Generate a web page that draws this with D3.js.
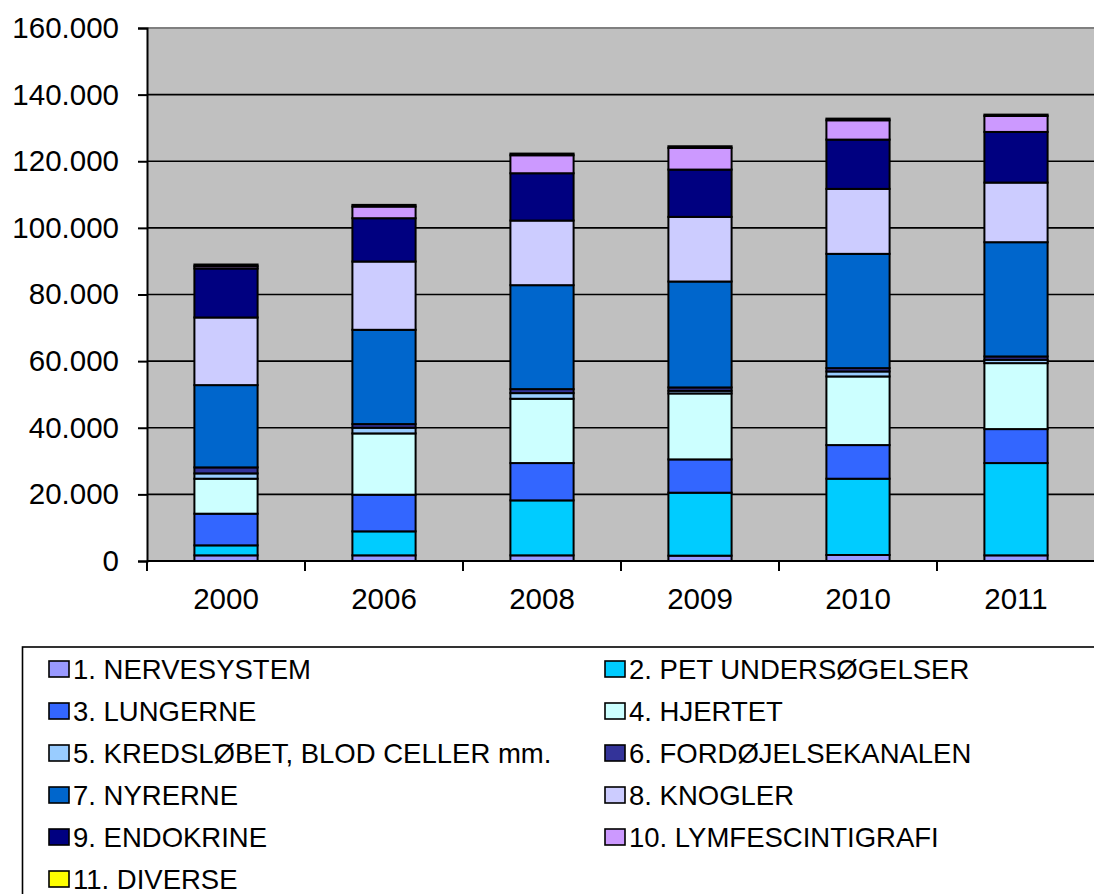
<!DOCTYPE html>
<html>
<head>
<meta charset="utf-8">
<script src="https://cdn.jsdelivr.net/npm/d3@7"></script>
<style>
  html, body { margin: 0; padding: 0; background: #fff; }
  svg { display: block; font-family: "Liberation Sans", Arial, sans-serif; }
</style>
</head>
<body>
<svg id="chart" width="1094" height="894"></svg>
<script>
// Years on the x axis
const years = ["2000", "2006", "2008", "2009", "2010", "2011"];

// Examination categories, bottom to top in each stack
const categories = [
  "1. NERVESYSTEM",
  "2. PET UNDERSØGELSER",
  "3. LUNGERNE",
  "4. HJERTET",
  "5. KREDSLØBET, BLOD CELLER mm.",
  "6. FORDØJELSEKANALEN",
  "7. NYRERNE",
  "8. KNOGLER",
  "9. ENDOKRINE",
  "10. LYMFESCINTIGRAFI",
  "11. DIVERSE"
];

const colors = ["#9999FF", "#00CCFF", "#3366FF", "#CCFFFF", "#99CCFF", "#333399",
                "#0066CC", "#CCCCFF", "#000080", "#CC99FF", "#FFFF00"];

// Number of examinations per category, one value per year
const nervesystem  = [1700, 1700, 1700, 1600, 1800, 1700];
const pet          = [3000, 7200, 16500, 18900, 22900, 27700];
const lungerne     = [9500, 11000, 11200, 10000, 10100, 10200];
const hjertet      = [10500, 18400, 19300, 19800, 20600, 19800];
const kredsloebet  = [1600, 1700, 1700, 800, 1500, 1000];
const fordoejelse  = [1800, 1100, 1200, 1000, 1000, 1000];
const nyrerne      = [24700, 28300, 31200, 31800, 34300, 34300];
const knogler      = [20300, 20500, 19400, 19400, 19500, 17900];
const endokrine    = [14700, 13000, 14200, 14200, 14800, 15200];
const lymfe        = [700, 3500, 5400, 6500, 5800, 4800];
const diverse      = [500, 500, 500, 500, 500, 400];

const series = [nervesystem, pet, lungerne, hjertet, kredsloebet, fordoejelse,
                nyrerne, knogler, endokrine, lymfe, diverse];

// Y axis ticks
const yTicks = [0, 20000, 40000, 60000, 80000, 100000, 120000, 140000, 160000];

const rows = years.map((yr, i) => {
  const r = { year: yr };
  categories.forEach((c, k) => { r[c] = series[k][i]; });
  return r;
});

const svg = d3.select("#chart");
const plotLeft = 147, plotRight = 1095, plotTop = 28, plotBottom = 561;

const x = d3.scaleBand().domain(years).range([plotLeft, plotRight]).paddingInner(0.6).paddingOuter(0.3);
const y = d3.scaleLinear().domain([0, 160000]).range([plotBottom, plotTop]);

const fmt = d3.formatLocale({ decimal: ",", thousands: ".", grouping: [3], currency: ["", ""] }).format(",");

// Plot background
svg.append("rect")
  .attr("x", plotLeft).attr("y", plotTop)
  .attr("width", plotRight - plotLeft).attr("height", plotBottom - plotTop)
  .attr("fill", "#C0C0C0");

// Horizontal gridlines
svg.append("g").selectAll("line")
  .data(yTicks.filter(d => d > 0 && d < 160000))
  .join("line")
  .attr("x1", plotLeft).attr("x2", plotRight)
  .attr("y1", d => y(d)).attr("y2", d => y(d))
  .attr("stroke", "#000").attr("stroke-width", 1.6);

// Plot top border
svg.append("line")
  .attr("x1", plotLeft).attr("x2", plotRight)
  .attr("y1", plotTop).attr("y2", plotTop)
  .attr("stroke", "#808080").attr("stroke-width", 2);

// Stacked bars
const stack = d3.stack().keys(categories)(rows);
svg.append("g").selectAll("g")
  .data(stack)
  .join("g")
  .attr("fill", (d, i) => colors[i])
  .selectAll("rect")
  .data(d => d)
  .join("rect")
  .attr("x", d => x(d.data.year))
  .attr("width", x.bandwidth())
  .attr("y", d => y(d[1]))
  .attr("height", d => y(d[0]) - y(d[1]))
  .attr("stroke", "#000")
  .attr("stroke-width", 2);

// Y axis
const yAxis = d3.axisLeft(y).tickValues(yTicks).tickFormat(fmt).tickSize(9).tickPadding(19);
svg.append("g")
  .attr("transform", `translate(${plotLeft},0)`)
  .call(yAxis)
  .call(g => g.select(".domain").attr("stroke", "#000").attr("stroke-width", 2))
  .call(g => g.selectAll(".tick line").attr("stroke", "#000").attr("stroke-width", 2))
  .call(g => g.selectAll("text")
    .attr("fill", "#000")
    .style("font-family", "'Liberation Sans', Arial, sans-serif")
    .style("font-size", "29.5px"));

// X axis: ticks sit between the year bands
const xAxisG = svg.append("g").attr("transform", `translate(0,${plotBottom})`);
xAxisG.append("line")
  .attr("x1", plotLeft).attr("x2", plotRight)
  .attr("stroke", "#000").attr("stroke-width", 2);
const step = x.step();
xAxisG.selectAll("line.sep")
  .data(d3.range(years.length + 1))
  .join("line")
  .attr("class", "sep")
  .attr("x1", i => plotLeft + i * step).attr("x2", i => plotLeft + i * step)
  .attr("y1", 0).attr("y2", 10)
  .attr("stroke", "#000").attr("stroke-width", 2);
xAxisG.selectAll("text")
  .data(years)
  .join("text")
  .attr("x", d => x(d) + x.bandwidth() / 2)
  .attr("y", 48)
  .attr("text-anchor", "middle")
  .attr("fill", "#000")
  .style("font-size", "29.5px")
  .text(d => d);

// Legend
const legend = svg.append("g");
legend.append("rect")
  .attr("x", 22.5).attr("y", 647)
  .attr("width", 1100).attr("height", 300)
  .attr("fill", "#fff").attr("stroke", "#000").attr("stroke-width", 1.6);

const colX = [49, 605];
const rowY0 = 679, rowStep = 42;
const items = legend.selectAll("g.item")
  .data(categories)
  .join("g")
  .attr("class", "item")
  .attr("transform", (d, i) => `translate(${colX[i % 2]},${rowY0 + Math.floor(i / 2) * rowStep})`);
items.append("rect")
  .attr("x", 0).attr("y", -18)
  .attr("width", 20).attr("height", 16)
  .attr("fill", (d, i) => colors[i])
  .attr("stroke", "#000").attr("stroke-width", 1.6);
items.append("text")
  .attr("x", 24)
  .attr("y", 0)
  .attr("fill", "#000")
  .style("font-size", "27.5px")
  .text(d => d);
</script>
</body>
</html>
